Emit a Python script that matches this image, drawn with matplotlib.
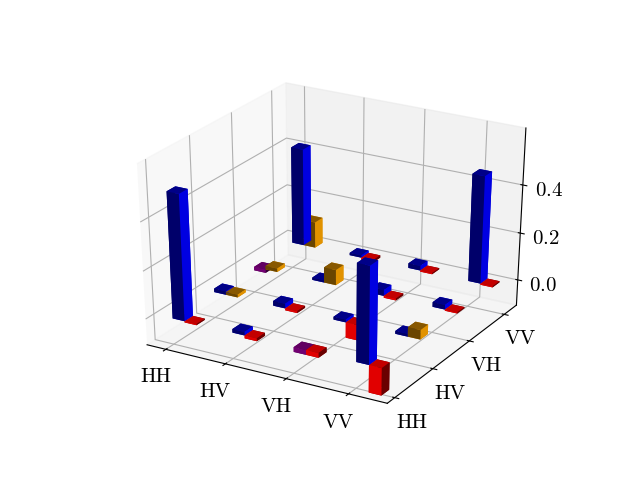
import numpy as np
import matplotlib
matplotlib.use("Agg")
import matplotlib.pyplot as plt
from matplotlib.colors import LightSource

plt.rcParams['font.family'] = 'serif'
plt.rcParams['font.serif'] = ['cmr10']
plt.rcParams['axes.formatter.use_mathtext'] = True

labels = ['HH', 'HV', 'VH', 'VV']

# rows: y index (HH, HV, VH, VV); columns: x index (HH, HV, VH, VV)
real_part = np.array([
    [0.52, 0.015, -0.02, 0.40],
    [0.015, 0.02, 0.012, 0.012],
    [-0.015, 0.01, 0.025, 0.02],
    [0.41, 0.01, 0.02, 0.45],
])
imag_part = np.array([
    [-0.005, -0.012, -0.02, -0.115],
    [0.012, -0.008, -0.065, 0.04],
    [0.015, 0.065, -0.008, -0.005],
    [0.11, -0.01, -0.005, -0.005],
])

fig = plt.figure(figsize=(6.4, 4.8), dpi=100)
ax = fig.add_subplot(111, projection='3d')
ax.apply_aspect = lambda *a, **k: None
ax.set_box_aspect((1, 1, 1), zoom=0.94)

w = 0.2
xs, ys, zs, dxs, dys, dzs, cols = [], [], [], [], [], [], []
for j in range(4):
    for i in range(4):
        r = real_part[j, i]
        im = imag_part[j, i]
        xs.append(i); ys.append(j); zs.append(0)
        dxs.append(w); dys.append(w); dzs.append(r)
        cols.append('blue' if r >= 0 else 'purple')
        xs.append(i + w); ys.append(j); zs.append(0)
        dxs.append(w); dys.append(w); dzs.append(im)
        cols.append('orange' if im > 0 else 'red')

ax.bar3d(xs, ys, zs, dxs, dys, dzs, color=cols,
         lightsource=LightSource(azdeg=45, altdeg=-19.4712))

ax.set_xlim(-0.32, 3.61)
ax.set_ylim(-0.19, 3.36)
ax.set_zlim(-0.11, 0.63)
ax.set_xticks(np.arange(4))
ax.set_xticklabels(labels, fontsize=15)
ax.set_yticks(np.arange(4))
ax.set_yticklabels(labels, fontsize=15)
ax.set_zticks([0.0, 0.2, 0.4])
ax.tick_params(axis='z', labelsize=15)

fig.savefig('out.png', dpi=100)
